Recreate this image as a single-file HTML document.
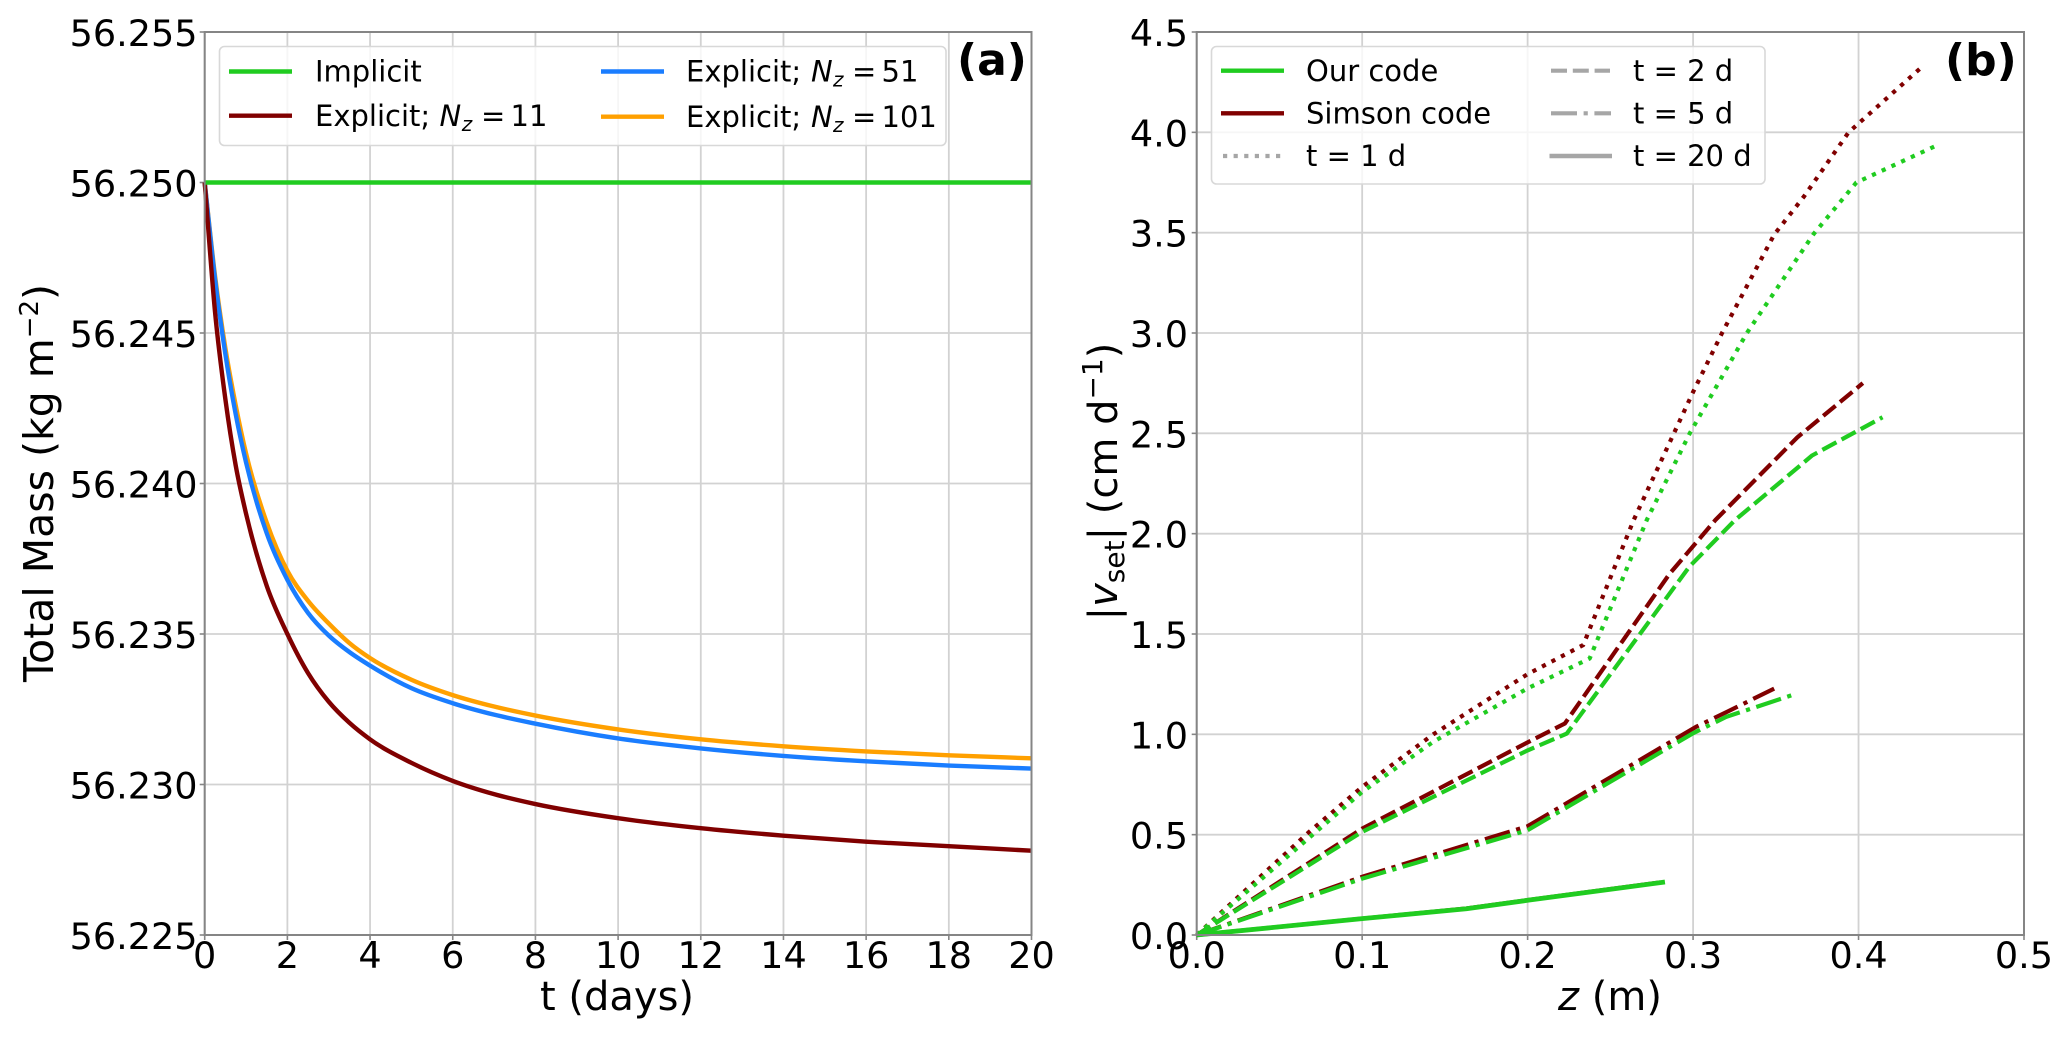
<!DOCTYPE html>
<html lang="en">
<head>
<meta charset="utf-8">
<title>Total mass and settling velocity comparison</title>
<style>
  html, body { margin: 0; padding: 0; background: #fff; }
  svg { display: block; position: absolute; left: 0; top: 0; }
  text { font-family: "DejaVu Sans", "Liberation Sans", sans-serif; fill: #000; }
  .leg { font-size: 29px; }
  .axl { font-size: 40px; }
  .tag { font-size: 44px; font-weight: bold; }
  .it { font-style: italic; }
</style>
</head>
<body>
<svg id="fig" width="2067" height="1037" viewBox="0 0 2067 1037" xmlns="http://www.w3.org/2000/svg">
  <rect width="2067" height="1037" fill="#fff"/>
  <g id="panelA"></g>
  <g id="panelB"></g>

  <!-- Panel A labels -->
  <text class="axl" x="617" y="1010" text-anchor="middle">t (days)</text>
  <text class="axl" style="font-size:41px" transform="translate(53,483) rotate(-90)" text-anchor="middle">Total Mass (kg m<tspan font-size="26" dy="-15">−2</tspan><tspan dy="15">)</tspan></text>
  <text class="tag" x="957" y="75">(a)</text>

  <!-- Panel A legend -->
  <g>
    <rect x="219.5" y="46.5" width="726.5" height="99" rx="5" fill="#fff" fill-opacity="0.8" stroke="#d8d8d8" stroke-width="1.6"/>
    <g>
      <line x1="229" x2="292" y1="71.5" y2="71.5" stroke="#20cc20" stroke-width="4.4"/>
      <text class="leg" x="315" y="81.7">Implicit</text>
    </g>
    <g>
      <line x1="229" x2="292" y1="115.7" y2="115.7" stroke="#800000" stroke-width="4.4"/>
      <text class="leg" x="315" y="126">Explicit;<tspan class="it" x="439.5">N</tspan><tspan class="it" x="461.7" font-size="20" dy="5">z</tspan><tspan x="481" dy="-5">=</tspan><tspan x="510.5">11</tspan></text>
    </g>
    <g>
      <line x1="601" x2="664" y1="71.5" y2="71.5" stroke="#1a7dff" stroke-width="4.4"/>
      <text class="leg" x="686" y="81.7">Explicit;<tspan class="it" x="811">N</tspan><tspan class="it" x="833" font-size="20" dy="5">z</tspan><tspan x="852" dy="-5">=</tspan><tspan x="881.5">51</tspan></text>
    </g>
    <g>
      <line x1="601" x2="664" y1="116.7" y2="116.7" stroke="#ffa000" stroke-width="4.4"/>
      <text class="leg" x="686" y="127">Explicit;<tspan class="it" x="811">N</tspan><tspan class="it" x="833" font-size="20" dy="5">z</tspan><tspan x="852" dy="-5">=</tspan><tspan x="881.5">101</tspan></text>
    </g>
  </g>

  <!-- Panel B labels -->
  <text class="axl" x="1610" y="1010" text-anchor="middle"><tspan class="it">z</tspan> (m)</text>
  <text class="axl" transform="translate(1117,481.5) rotate(-90)" text-anchor="middle">|<tspan class="it">v</tspan><tspan font-size="28" dy="7">set</tspan><tspan dy="-7">| (cm d</tspan><tspan font-size="28" dy="-15">−1</tspan><tspan dy="15">)</tspan></text>
  <text class="tag" x="1945" y="75">(b)</text>

  <!-- Panel B legend -->
  <g>
    <rect x="1211.5" y="46.5" width="553.5" height="137.5" rx="5" fill="#fff" fill-opacity="0.8" stroke="#d8d8d8" stroke-width="1.6"/>
    <g>
      <line x1="1221" x2="1284" y1="70.7" y2="70.7" stroke="#20cc20" stroke-width="4.4"/>
      <text class="leg" x="1306" y="81">Our code</text>
    </g>
    <g>
      <line x1="1221" x2="1284" y1="113.3" y2="113.3" stroke="#800000" stroke-width="4.4"/>
      <text class="leg" x="1306" y="123.5">Simson code</text>
    </g>
    <g>
      <line x1="1223" x2="1283" y1="156" y2="156" stroke="#a6a6a6" stroke-width="4.2" stroke-dasharray="4.2 6.4"/>
      <text class="leg" x="1306" y="166">t = 1 d</text>
    </g>
    <g>
      <line x1="1551" x2="1610" y1="70.7" y2="70.7" stroke="#a6a6a6" stroke-width="4.2" stroke-dasharray="16 5.8"/>
      <text class="leg" x="1633" y="81">t = 2 d</text>
    </g>
    <g>
      <line x1="1551" x2="1611" y1="113.3" y2="113.3" stroke="#a6a6a6" stroke-width="4.2" stroke-dasharray="26 6.6 4.2 6.6"/>
      <text class="leg" x="1633" y="123.5">t = 5 d</text>
    </g>
    <g>
      <line x1="1549.5" x2="1612" y1="156" y2="156" stroke="#a6a6a6" stroke-width="4.4"/>
      <text class="leg" x="1633" y="166">t = 20 d</text>
    </g>
  </g>
</svg>

<script>
// ---------- Panel (a) data: total mass against time ----------
const massXTicks = [0, 2, 4, 6, 8, 10, 12, 14, 16, 18, 20];
const massYTicks = [56.225, 56.230, 56.235, 56.240, 56.245, 56.250, 56.255];
const massYTickLabels = ['56.225', '56.230', '56.235', '56.240', '56.245', '56.250', '56.255'];

const implicitT = [0, 20];
const implicitMass = [56.25, 56.25];

const explicitT = [0, 0.25, 0.5, 0.75, 1, 1.5, 2, 2.5, 3, 3.5, 4, 5, 6, 7, 8, 10, 12, 14, 16, 18, 20];
const nz11Mass = [56.25, 56.2457, 56.2428, 56.2406, 56.239, 56.2366, 56.235, 56.2337, 56.23275, 56.23205, 56.2315, 56.23072, 56.23012, 56.22968, 56.22935, 56.22888, 56.22855, 56.2283, 56.2281, 56.22795, 56.2278];
const nz51Mass = [56.25, 56.2468, 56.2443, 56.2423, 56.2407, 56.23835, 56.2368, 56.2357, 56.23495, 56.2344, 56.23395, 56.2332, 56.2327, 56.23232, 56.23202, 56.23153, 56.2312, 56.23095, 56.23077, 56.23063, 56.23053];
const nz101Mass = [56.25, 56.2469, 56.2445, 56.2426, 56.241, 56.2387, 56.2371, 56.2361, 56.23535, 56.2347, 56.2342, 56.23348, 56.23297, 56.23259, 56.23229, 56.23183, 56.2315, 56.23127, 56.2311, 56.23097, 56.23087];

// ---------- Panel (b) data: settling velocity against depth ----------
const velXTicks = [0, 0.1, 0.2, 0.3, 0.4, 0.5];
const velXTickLabels = ['0.0', '0.1', '0.2', '0.3', '0.4', '0.5'];
const velYTicks = [0, 0.5, 1, 1.5, 2, 2.5, 3, 3.5, 4, 4.5];
const velYTickLabels = ['0.0', '0.5', '1.0', '1.5', '2.0', '2.5', '3.0', '3.5', '4.0', '4.5'];

const simsonT1Z = [0, 0.068, 0.1, 0.143, 0.2, 0.2336, 0.264, 0.3, 0.3175, 0.349, 0.367, 0.394, 0.4375];
const simsonT1V = [0, 0.514, 0.738, 1.0, 1.3, 1.445, 2.066, 2.706, 3.0, 3.49, 3.68, 4.0, 4.32];
const oursT1Z = [0, 0.1, 0.143, 0.2, 0.2375, 0.272, 0.298, 0.3325, 0.373, 0.3987, 0.446];
const oursT1V = [0, 0.713, 0.963, 1.229, 1.378, 2.068, 2.5, 3.0, 3.495, 3.75, 3.93];

const simsonT2Z = [0, 0.1, 0.2, 0.2225, 0.2858, 0.3135, 0.363, 0.4026];
const simsonT2V = [0, 0.53, 0.96, 1.054, 1.8, 2.068, 2.48, 2.75];
const oursT2Z = [0, 0.1, 0.2, 0.2237, 0.2977, 0.3254, 0.372, 0.4145];
const oursT2V = [0, 0.514, 0.92, 1.004, 1.835, 2.068, 2.39, 2.58];

const simsonT5Z = [0, 0.1, 0.2, 0.3017, 0.32, 0.349];
const simsonT5V = [0, 0.29, 0.542, 1.037, 1.11, 1.228];
const oursT5Z = [0, 0.1, 0.2, 0.2997, 0.32, 0.363];
const oursT5V = [0, 0.281, 0.522, 1.004, 1.087, 1.204];

const simsonT20Z = [0, 0.1, 0.163, 0.2, 0.28];
const simsonT20V = [0, 0.082, 0.132, 0.174, 0.262];
const oursT20Z = [0, 0.1, 0.163, 0.2, 0.283];
const oursT20V = [0, 0.0815, 0.131, 0.173, 0.264];

const SVGNS = 'http://www.w3.org/2000/svg';
const GRID = '#d2d2d2';
const SPINE = '#858585';
const GREEN = '#20cc20';
const MAROON = '#800000';
const BLUE = '#1a7dff';
const ORANGE = '#ffa000';
const DOTTED = '4.2 6.5';
const DASHED = '16 5.8';
const DASHDOT = '26 6.6 4.2 6.6';

function make(tag, attrs, parent) {
  const n = document.createElementNS(SVGNS, tag);
  for (const k in attrs) n.setAttribute(k, attrs[k]);
  parent.appendChild(n);
  return n;
}

function linearScale(d0, d1, r0, r1) {
  return function (v) { return r0 + (v - d0) * (r1 - r0) / (d1 - d0); };
}

// smooth monotone path through the data points
function smoothPath(px, py) {
  const n = px.length;
  if (n < 3) return 'M' + px[0] + ' ' + py[0] + 'L' + px[n - 1] + ' ' + py[n - 1];
  const slope = [];
  for (let i = 0; i < n - 1; i++) slope.push((py[i + 1] - py[i]) / (px[i + 1] - px[i]));
  const tan = [slope[0]];
  for (let i = 1; i < n - 1; i++) {
    const a = slope[i - 1], b = slope[i];
    const h0 = px[i] - px[i - 1], h1 = px[i + 1] - px[i];
    tan.push(a * b <= 0 ? 0 : (h0 * b + h1 * a) / (h0 + h1));
  }
  tan.push(slope[n - 2]);
  let d = 'M' + px[0].toFixed(2) + ' ' + py[0].toFixed(2);
  for (let i = 0; i < n - 1; i++) {
    const h = (px[i + 1] - px[i]) / 3;
    d += 'C' + (px[i] + h).toFixed(2) + ' ' + (py[i] + tan[i] * h).toFixed(2) + ' ' +
         (px[i + 1] - h).toFixed(2) + ' ' + (py[i + 1] - tan[i + 1] * h).toFixed(2) + ' ' +
         px[i + 1].toFixed(2) + ' ' + py[i + 1].toFixed(2);
  }
  return d;
}

function drawAxes(parent, box, xScale, yScale, xTicks, xLabels, yTicks, yLabels, labelRight, prefix) {
  const gridGroup = make('g', {}, parent);
  
  
  xTicks.forEach(function (t, i) {
    const x = xScale(t);
    const g = make('line', { x1: x, x2: x, y1: box.top, y2: box.bottom, stroke: GRID, 'stroke-width': 1.8 }, gridGroup);
    
    
    const tick = make('line', { x1: x, x2: x, y1: box.bottom, y2: box.bottom + 5, stroke: SPINE, 'stroke-width': 1.6 }, parent);
    
    
    const lab = make('text', { x: x, y: 968, 'text-anchor': 'middle', 'font-size': 36.6 }, parent);
    lab.textContent = xLabels[i];
    
    
  });
  yTicks.forEach(function (t, i) {
    const y = yScale(t);
    const g = make('line', { x1: box.left, x2: box.right, y1: y, y2: y, stroke: GRID, 'stroke-width': 1.8 }, gridGroup);
    
    
    const tick = make('line', { x1: box.left - 5, x2: box.left, y1: y, y2: y, stroke: SPINE, 'stroke-width': 1.6 }, parent);
    
    
    const lab = make('text', { x: labelRight, y: y + 14, 'text-anchor': 'end', 'font-size': 36.6 }, parent);
    lab.textContent = yLabels[i];
    
    
  });
}

function drawFrame(parent, box, prefix) {
  const frame = make('rect', { x: box.left, y: box.top, width: box.right - box.left, height: box.bottom - box.top, fill: 'none', stroke: SPINE, 'stroke-width': 2 }, parent);
  
  
}

// ---------- Panel (a) ----------
const boxA = { left: 204.7, right: 1031.5, top: 32, bottom: 935 };
const xA = linearScale(0, 20, boxA.left, boxA.right);
const yA = linearScale(56.225, 56.255, boxA.bottom, boxA.top);
const panelA = document.getElementById('panelA');
drawAxes(panelA, boxA, xA, yA, massXTicks, massXTicks.map(String), massYTicks, massYTickLabels, 197.6, 'panel-a');

function drawMass(tValues, mValues, colour, width, name) {
  const p = make('path', {
    d: smoothPath(tValues.map(xA), mValues.map(yA)),
    fill: 'none', stroke: colour, 'stroke-width': width, 'stroke-linejoin': 'round'
  }, panelA);
  
  
}
drawMass(explicitT, nz101Mass, ORANGE, 4.4, 'series-explicit-nz-101');
drawMass(explicitT, nz51Mass, BLUE, 4.4, 'series-explicit-nz-51');
drawMass(explicitT, nz11Mass, MAROON, 4.4, 'series-explicit-nz-11');
drawMass(implicitT, implicitMass, GREEN, 4.4, 'series-implicit');
drawFrame(panelA, boxA, 'panel-a');

// ---------- Panel (b) ----------
const boxB = { left: 1196.7, right: 2024, top: 32, bottom: 935 };
const xB = linearScale(0, 0.5, boxB.left, boxB.right);
const yB = linearScale(0, 4.5, boxB.bottom, boxB.top);
const panelB = document.getElementById('panelB');
drawAxes(panelB, boxB, xB, yB, velXTicks, velXTickLabels, velYTicks, velYTickLabels, 1188, 'panel-b');

function drawVelocity(zValues, vValues, colour, dash, width, name) {
  const pts = zValues.map(function (z, i) { return xB(z).toFixed(2) + ',' + yB(vValues[i]).toFixed(2); }).join(' ');
  const attrs = { points: pts, fill: 'none', stroke: colour, 'stroke-width': width, 'stroke-linejoin': 'round' };
  if (dash) attrs['stroke-dasharray'] = dash;
  const p = make('polyline', attrs, panelB);
  
  
}
drawVelocity(simsonT1Z, simsonT1V, MAROON, DOTTED, 4.2, 'series-simson-t-1d');
drawVelocity(simsonT2Z, simsonT2V, MAROON, DASHED, 4.2, 'series-simson-t-2d');
drawVelocity(simsonT5Z, simsonT5V, MAROON, DASHDOT, 4.2, 'series-simson-t-5d');
drawVelocity(simsonT20Z, simsonT20V, MAROON, null, 4.2, 'series-simson-t-20d');
drawVelocity(oursT1Z, oursT1V, GREEN, DOTTED, 4.2, 'series-our-code-t-1d');
drawVelocity(oursT2Z, oursT2V, GREEN, DASHED, 4.2, 'series-our-code-t-2d');
drawVelocity(oursT5Z, oursT5V, GREEN, DASHDOT, 4.2, 'series-our-code-t-5d');
drawVelocity(oursT20Z, oursT20V, GREEN, null, 4.8, 'series-our-code-t-20d');
drawFrame(panelB, boxB, 'panel-b');
</script>
</body>
</html>
